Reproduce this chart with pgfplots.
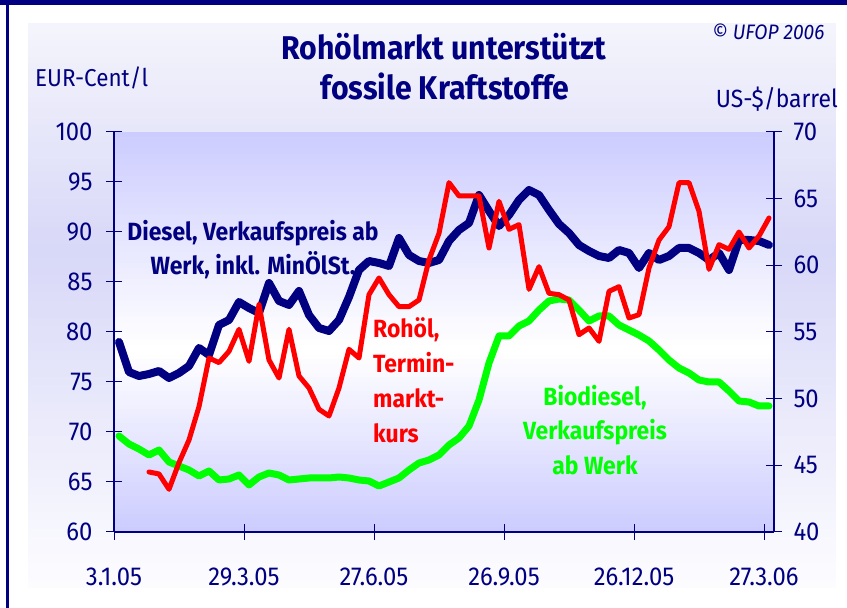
\documentclass[border=0pt]{standalone}
\usepackage{pgfplots}
\pgfplotsset{compat=1.18}
\usepackage{fontspec}
\setmainfont{Fira Sans}[FakeStretch=0.92]
\definecolor{navy}{RGB}{0,0,128}
\definecolor{lime}{RGB}{0,255,0}
\definecolor{pred}{RGB}{255,0,0}
\definecolor{lav}{RGB}{204,204,255}
\definecolor{mid}{RGB}{255,255,255}
\definecolor{outtop}{RGB}{244,244,252}
\definecolor{outmid}{RGB}{216,216,248}
\definecolor{outbot}{RGB}{252,252,255}

\pgfplotstableread{
x y
0.5 79.0
1.5 76.0
2.5 75.6
3.5 75.8
4.5 76.1
5.5 75.4
6.5 75.9
7.5 76.6
8.5 78.4
9.5 77.7
10.5 80.7
11.5 81.2
12.5 83.0
13.5 82.4
14.5 81.9
15.5 84.9
16.5 83.1
17.5 82.7
18.5 84.1
19.5 81.7
20.5 80.4
21.5 80.1
22.5 81.2
23.5 83.5
24.5 86.2
25.5 87.1
26.5 86.9
27.5 86.6
28.5 89.4
29.5 87.7
30.5 87.1
31.5 86.9
32.5 87.2
33.5 89.1
34.5 90.2
35.5 90.9
36.5 93.7
37.5 92.1
38.5 90.6
39.5 91.7
40.5 93.2
41.5 94.2
42.5 93.7
43.5 92.2
44.5 90.8
45.5 89.9
46.5 88.7
47.5 88.1
48.5 87.6
49.5 87.4
50.5 88.2
51.5 87.9
52.5 86.4
53.5 87.9
54.5 87.2
55.5 87.6
56.5 88.4
57.5 88.4
58.5 87.9
59.5 87.2
60.5 87.9
61.5 86.2
62.5 89.2
63.5 89.2
64.5 89.1
65.5 88.7
}\diesel

\pgfplotstableread{
x y
0.5 69.6
1.5 68.8
2.5 68.3
3.5 67.7
4.5 68.2
5.5 67.0
6.5 66.6
7.5 66.2
8.5 65.6
9.5 66.1
10.5 65.2
11.5 65.3
12.5 65.7
13.5 64.7
14.5 65.5
15.5 65.9
16.5 65.7
17.5 65.2
18.5 65.3
19.5 65.4
20.5 65.4
21.5 65.4
22.5 65.5
23.5 65.4
24.5 65.2
25.5 65.1
26.5 64.6
27.5 65.0
28.5 65.4
29.5 66.2
30.5 66.9
31.5 67.2
32.5 67.7
33.5 68.7
34.5 69.4
35.5 70.6
36.5 73.2
37.5 76.9
38.5 79.6
39.5 79.6
40.5 80.6
41.5 81.1
42.5 82.2
43.5 83.1
44.5 83.3
45.5 83.2
46.5 82.2
47.5 81.1
48.5 81.6
49.5 81.6
50.5 80.7
51.5 80.2
52.5 79.7
53.5 79.1
54.5 78.2
55.5 77.2
56.5 76.4
57.5 75.9
58.5 75.2
59.5 75.0
60.5 75.0
61.5 74.1
62.5 73.1
63.5 73.0
64.5 72.6
65.5 72.6
}\biodiesel

\pgfplotstableread{
x y
3.5 44.5
4.5 44.35
5.5 43.2
6.5 45.2
7.5 46.9
8.5 49.4
9.5 53.05
10.5 52.7
11.5 53.55
12.5 55.2
13.5 52.8
14.5 57.05
15.5 52.9
16.5 51.55
17.5 55.2
18.5 51.7
19.5 50.8
20.5 49.2
21.5 48.7
22.5 50.8
23.5 53.7
24.5 53.05
25.5 57.8
26.5 59.05
27.5 57.8
28.5 56.9
29.5 56.9
30.5 57.4
31.5 60.4
32.5 62.4
33.5 66.2
34.5 65.2
35.5 65.2
36.5 65.2
37.5 61.3
38.5 64.8
39.5 62.7
40.5 63.05
41.5 58.2
42.5 59.9
43.5 57.9
44.5 57.8
45.5 57.4
46.5 54.8
47.5 55.3
48.5 54.3
49.5 58.05
50.5 58.4
51.5 56.05
52.5 56.3
53.5 59.8
54.5 61.9
55.5 62.9
56.5 66.2
57.5 66.2
58.5 64.05
59.5 59.7
60.5 61.55
61.5 61.2
62.5 62.5
63.5 61.3
64.5 62.2
65.5 63.55
}\rohoel

\begin{document}
\begin{tikzpicture}[x=1bp,y=1bp]
\useasboundingbox (0,0) rectangle (847,608);
\fill[white] (0,0) rectangle (847,608);
\foreach \i in {0,...,39}{
  \pgfmathsetmacro{\ya}{358+\i*227/40}
  \pgfmathsetmacro{\yb}{\ya+227/40+0.6}
  \pgfmathtruncatemacro{\p}{100-\i*100/39}
  \fill[outmid!\p!outtop] (28,\ya) rectangle (836,{min(\yb,585)});
}
\foreach \i in {0,...,39}{
  \pgfmathsetmacro{\ya}{20+\i*338/40}
  \pgfmathsetmacro{\yb}{\ya+338/40+0.6}
  \pgfmathtruncatemacro{\p}{\i*100/39}
  \fill[outmid!\p!outbot] (28,\ya) rectangle (836,{min(\yb,358.5)});
}
\fill[navy] (0,603) rectangle (847,608);
\fill[navy] (6,0) rectangle (9,608);
\foreach \i in {0,...,39}{
  \pgfmathsetmacro{\ya}{258+\i*218/40}
  \pgfmathsetmacro{\yb}{\ya+218/40+0.6}
  \pgfmathtruncatemacro{\p}{\i*100/39}
  \fill[lav!\p!mid] (114,\ya) rectangle (774,{min(\yb,476)});
}
\foreach \i in {0,...,39}{
  \pgfmathsetmacro{\ya}{76+\i*182/40}
  \pgfmathsetmacro{\yb}{\ya+182/40+0.6}
  \pgfmathtruncatemacro{\p}{100-\i*100/39}
  \fill[lav!\p!mid] (114,\ya) rectangle (774,{min(\yb,258.5)});
}

\pgfplotsset{
  common/.style={
    at={(114bp,76bp)}, anchor=south west,
    scale only axis, width=660bp, height=400bp,
    xmin=0, xmax=66,
    axis line style={navy, line width=1.2bp},
    major tick style={navy, line width=1bp},
    tick align=center, major tick length=16bp,
    /pgf/number format/assume math mode=true,
    ticklabel style={font=\fontsize{26}{26}\selectfont, text=navy},
  }
}

\begin{axis}[common,
  ymin=60, ymax=100,
  axis x line*=bottom, axis y line*=left,
  xtick={0,13,26,39,52,65},
  xticklabels={3.1.05,29.3.05,27.6.05,26.9.05,26.12.05,27.3.06},
  ytick={60,65,...,100},
  yticklabel style={anchor=east, xshift=-10bp},
  xticklabel style={anchor=north, yshift=-24bp},
]
\addplot[lime, line width=7bp, line join=round, line cap=round] table[x=x,y=y] {\biodiesel};
\addplot[navy, line width=8bp, line join=round, line cap=round] table[x=x,y=y] {\diesel};
\end{axis}

\begin{axis}[common,
  ymin=40, ymax=70,
  axis x line=none, axis y line*=right,
  ytick={40,45,...,70},
  yticklabel style={anchor=west, xshift=8bp},
]
\addplot[pred, line width=5bp, line join=round, line cap=round] table[x=x,y=y] {\rohoel};
\end{axis}

\node[anchor=base, text=navy, font=\bfseries\fontsize{33}{33}\selectfont] at (444,548) {Rohölmarkt unterstützt};
\node[anchor=base, text=navy, font=\bfseries\fontsize{33}{33}\selectfont] at (445,508) {fossile Kraftstoffe};
\node[anchor=base east, text=navy, font=\itshape\fontsize{21}{21}\selectfont] at (828,568) {© UFOP 2006};
\node[anchor=base west, text=navy, font=\fontsize{24.5}{24.5}\selectfont, inner sep=0pt] at (35,521) {EUR-Cent/l};
\node[anchor=base east, text=navy, font=\fontsize{25}{25}\selectfont, inner sep=0pt] at (838,500) {US-\$/barrel};

\node[align=center, text=navy, font=\bfseries\fontsize{25}{34}\selectfont] at (253,358) {Diesel, Verkaufspreis ab\\Werk, inkl. MinÖlSt.};
\node[align=left, anchor=west, text=pred, font=\bfseries\fontsize{25}{35}\selectfont, inner sep=0pt] at (373,228) {Rohöl,\\Termin-\\markt-\\kurs};
\node[align=center, text=lime, font=\bfseries\fontsize{25}{35}\selectfont] at (595,178) {Biodiesel,\\Verkaufspreis\\ab Werk};
\end{tikzpicture}
\end{document}
